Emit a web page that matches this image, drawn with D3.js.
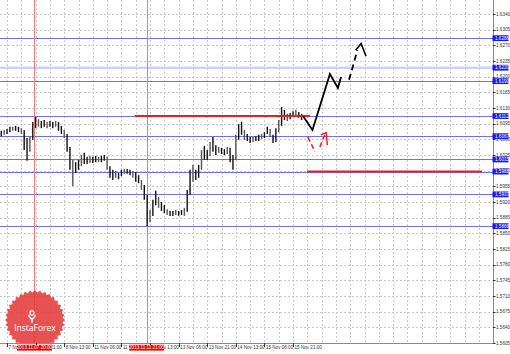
<!DOCTYPE html>
<html>
<head>
<meta charset="utf-8">
<script src="https://cdn.jsdelivr.net/npm/d3@7"></script>
<style>
  html, body { margin: 0; padding: 0; background: #fff; }
  svg { display: block; font-family: "Liberation Sans", Arial, sans-serif; }
</style>
</head>
<body>
<svg id="chart" width="510" height="354"></svg>
<script>
// hourly bars, high / low
const barHigh = [
  1.6079, 1.6081, 1.6083, 1.6088, 1.6088, 1.6090, 1.6088, 1.6085, 1.6081, 1.6063,
  1.6067, 1.6099, 1.6110, 1.6105, 1.6101, 1.6103, 1.6099, 1.6101, 1.6099, 1.6101,
  1.6099, 1.6090, 1.6081, 1.6072, 1.6043, 1.6014, 1.6009, 1.6014, 1.6025, 1.6030,
  1.6021, 1.6023, 1.6021, 1.6023, 1.6021, 1.6023, 1.6025, 1.6021, 1.6000, 1.5992,
  1.5989, 1.5985, 1.5992, 1.5994, 1.5994, 1.5992, 1.5989, 1.5987, 1.5980, 1.5969,
  1.5958, 1.5936, 1.5902, 1.5925, 1.5945, 1.5931, 1.5920, 1.5913, 1.5904, 1.5900,
  1.5900, 1.5902, 1.5900, 1.5902, 1.5907, 1.5947, 1.5992, 1.6003, 1.5992, 1.6003,
  1.6036, 1.6045, 1.6036, 1.6054, 1.6065, 1.6047, 1.6043, 1.6041, 1.6038, 1.6043,
  1.6041, 1.6025, 1.6070, 1.6094, 1.6099, 1.6081, 1.6072, 1.6065, 1.6065, 1.6067,
  1.6070, 1.6072, 1.6076, 1.6088, 1.6083, 1.6070, 1.6085, 1.6103, 1.6132, 1.6126,
  1.6117, 1.6119, 1.6123, 1.6126, 1.6121, 1.6117
];
const barLow = [
  1.6067, 1.6070, 1.6072, 1.6076, 1.6079, 1.6079, 1.6076, 1.6072, 1.6036, 1.6012,
  1.6032, 1.6059, 1.6085, 1.6088, 1.6085, 1.6088, 1.6085, 1.6088, 1.6085, 1.6088,
  1.6079, 1.6072, 1.6063, 1.6032, 1.5992, 1.5956, 1.5985, 1.5992, 1.6000, 1.6005,
  1.6005, 1.6007, 1.6007, 1.6009, 1.6009, 1.6009, 1.6012, 1.5992, 1.5974, 1.5969,
  1.5974, 1.5971, 1.5978, 1.5983, 1.5983, 1.5980, 1.5974, 1.5965, 1.5962, 1.5947,
  1.5925, 1.5866, 1.5875, 1.5889, 1.5913, 1.5907, 1.5900, 1.5895, 1.5891, 1.5889,
  1.5889, 1.5891, 1.5889, 1.5891, 1.5889, 1.5898, 1.5936, 1.5965, 1.5969, 1.5974,
  1.5992, 1.6014, 1.6014, 1.6023, 1.6032, 1.6025, 1.6030, 1.6027, 1.6025, 1.6027,
  1.6009, 1.5992, 1.6014, 1.6059, 1.6070, 1.6059, 1.6056, 1.6052, 1.6054, 1.6056,
  1.6056, 1.6061, 1.6063, 1.6072, 1.6065, 1.6052, 1.6054, 1.6076, 1.6090, 1.6103,
  1.6101, 1.6105, 1.6110, 1.6112, 1.6108, 1.6103
];

// axis ticks
const priceTicks = [1.6340, 1.6305, 1.6270, 1.6235, 1.6200, 1.6165, 1.6130, 1.6095,
  1.6060, 1.6025, 1.5990, 1.5955, 1.5920, 1.5885, 1.5850, 1.5815, 1.5780, 1.5745,
  1.5710, 1.5675, 1.5640, 1.5605];
const timeLabelBars = [2, 12, 22, 32, 42, 52, 62, 72, 82, 92, 102];
const timeLabels = ["7 Nov 2013", "7 Nov 21:00", "8 Nov 13:00", "11 Nov 06:00", "11 Nov 23:00",
  "12 Nov 13:00", "13 Nov 06:00", "13 Nov 21:00", "14 Nov 13:00", "15 Nov 06:00", "15 Nov 21:00"];

// support / resistance levels
const levels = [1.6286, 1.6220, 1.6190, 1.6112, 1.6067, 1.6015, 1.5988, 1.5937, 1.5866];
const keyLevel = 1.6220;
const redLevelPrice = [1.6112, 1.5988];
const redLevelFrom = [46.7, 106.9];
const redLevelTo = [107.9, 168.1];

// vertical markers
const markerBars = [11.6, 50.8];
const markerLabels = ["2013.11.07 20:00", "2013.11.11 21:00"];

// forecast paths [bar, price]
const mainPath = [[105.5, 1.6112], [108.8, 1.6081], [114.9, 1.6206], [117.7, 1.6175], [118.8, 1.6199]];
const mainDash = [[121.6, 1.6193], [124.5, 1.6259]];
const mainHead = [[123.9, 1.6259], [125.8, 1.6274], [127.5, 1.6246]];
const altDash1 = [[107.2, 1.6065], [109.7, 1.6032]];
const altDash2 = [[111.4, 1.6043], [113.2, 1.6072]];
const altHead = [[111.7, 1.6070], [113.6, 1.6075], [114.0, 1.6047]];

const W = 510, H = 354;
const plot = { right: 493, bottom: 343 };

const x = d3.scaleLinear().domain([0, 100]).range([1.3, 287.3]);
const y = d3.scaleLinear().domain([1.5605, 1.6340]).range([343, 14]);

const svg = d3.select("#chart");
svg.append("rect").attr("width", W).attr("height", H).attr("fill", "#fff");

svg.append("clipPath").attr("id", "plotClip")
  .append("rect").attr("width", plot.right).attr("height", plot.bottom);

const g = svg.append("g").attr("clip-path", "url(#plotClip)");

// grid
g.selectAll(".hgrid").data(priceTicks).enter().append("line")
  .attr("x1", 0).attr("x2", plot.right)
  .attr("y1", d => Math.round(y(d)) + 0.5).attr("y2", d => Math.round(y(d)) + 0.5)
  .attr("stroke", "#c8c8c8").attr("stroke-dasharray", "2,2");
g.selectAll(".vgrid").data(d3.range(2, 172, 5)).enter().append("line")
  .attr("x1", d => Math.round(x(d)) + 0.5).attr("x2", d => Math.round(x(d)) + 0.5)
  .attr("y1", 0).attr("y2", plot.bottom)
  .attr("stroke", "#c8c8c8").attr("stroke-dasharray", "2,2");

// levels
g.append("line")
  .attr("x1", 0).attr("x2", plot.right)
  .attr("y1", y(keyLevel)).attr("y2", y(keyLevel))
  .attr("stroke", "#cfcff8").attr("stroke-width", 2.5);
g.selectAll(".level").data(levels.filter(d => d !== keyLevel)).enter().append("line")
  .attr("x1", 0).attr("x2", plot.right)
  .attr("y1", d => Math.round(y(d)) + 0.5).attr("y2", d => Math.round(y(d)) + 0.5)
  .attr("stroke", "#6f6ff2").attr("stroke-width", 1);

// vertical markers
g.selectAll(".marker").data(markerBars).enter().append("line")
  .attr("x1", d => Math.round(x(d)) + 0.5).attr("x2", d => Math.round(x(d)) + 0.5)
  .attr("y1", 0).attr("y2", plot.bottom)
  .attr("stroke", "#f07a7a").attr("stroke-width", 1);

// price bars
g.selectAll(".bar").data(barHigh).enter().append("line")
  .attr("x1", (d, i) => x(i)).attr("x2", (d, i) => x(i))
  .attr("y1", d => y(d)).attr("y2", (d, i) => y(barLow[i]))
  .attr("stroke", (d, i) => i % 3 === 1 ? "#555" : "#111")
  .attr("stroke-width", 1.4);

// red levels
g.selectAll(".redLevel").data(redLevelPrice).enter().append("line")
  .attr("x1", (d, i) => x(redLevelFrom[i])).attr("x2", (d, i) => x(redLevelTo[i]))
  .attr("y1", d => y(d)).attr("y2", d => y(d))
  .attr("stroke", "#ee1c1c").attr("stroke-width", 2);

// forecasts
const line = d3.line().x(d => x(d[0])).y(d => y(d[1]));
g.append("path").attr("d", line(mainPath))
  .attr("fill", "none").attr("stroke", "#000").attr("stroke-width", 1.8)
  .attr("stroke-linejoin", "miter");
g.append("path").attr("d", line(mainDash))
  .attr("fill", "none").attr("stroke", "#000").attr("stroke-width", 1.8)
  .attr("stroke-dasharray", "6,4");
g.append("path").attr("d", line(mainHead))
  .attr("fill", "none").attr("stroke", "#000").attr("stroke-width", 1.6);
[altDash1, altDash2].forEach(p => {
  g.append("path").attr("d", line(p))
    .attr("fill", "none").attr("stroke", "#f01818").attr("stroke-width", 1.5)
    .attr("stroke-dasharray", "5,3");
});
g.append("path").attr("d", line(altHead))
  .attr("fill", "none").attr("stroke", "#f01818").attr("stroke-width", 1.4);

// logo badge
const logo = g.append("g").attr("transform", "translate(35,320)");
const teeth = 36;
const badge = d3.range(teeth * 2).map(k => {
  const a = k / (teeth * 2) * 2 * Math.PI;
  const r = k % 2 === 0 ? 30 : 27.5;
  return [Math.sin(a) * r, -Math.cos(a) * r];
});
logo.append("path").attr("d", d3.line()(badge) + "Z")
  .attr("fill", "#e43a3a").attr("opacity", 0.88);
logo.append("circle").attr("cx", -3).attr("cy", -7).attr("r", 2.1)
  .attr("fill", "none").attr("stroke", "#fff").attr("stroke-width", 1.2);
logo.append("path").attr("d", "M-6.5,-5 Q-3,3 0.5,-5 M-3,-2 L-3,3")
  .attr("fill", "none").attr("stroke", "#fff").attr("stroke-width", 1.4);
logo.append("text").attr("x", 0).attr("y", 11)
  .attr("text-anchor", "middle").attr("fill", "#fff")
  .attr("font-size", 8.5).attr("font-family", "'Open Sans', sans-serif")
  .text("InstaForex");

// frame
svg.append("line").attr("x1", plot.right + 0.5).attr("x2", plot.right + 0.5)
  .attr("y1", 0).attr("y2", plot.bottom + 0.5).attr("stroke", "#8a8a8a");
svg.append("line").attr("x1", 0).attr("x2", plot.right + 0.5)
  .attr("y1", plot.bottom + 0.5).attr("y2", plot.bottom + 0.5).attr("stroke", "#8a8a8a");

// price axis
const pa = svg.append("g");
pa.selectAll("line").data(priceTicks).enter().append("line")
  .attr("x1", plot.right).attr("x2", plot.right + 2.5)
  .attr("y1", d => Math.round(y(d)) + 0.5).attr("y2", d => Math.round(y(d)) + 0.5)
  .attr("stroke", "#333");
pa.selectAll("text").data(priceTicks).enter().append("text")
  .attr("x", plot.right + 3).attr("y", d => y(d) + 1.6)
  .attr("font-size", 4.6).attr("fill", "#333")
  .text(d => d.toFixed(4));

// time axis
const ta = svg.append("g");
ta.selectAll("line").data(timeLabelBars).enter().append("line")
  .attr("x1", d => Math.round(x(d)) + 0.5).attr("x2", d => Math.round(x(d)) + 0.5)
  .attr("y1", plot.bottom).attr("y2", plot.bottom + 4)
  .attr("stroke", "#333");
ta.selectAll("text").data(timeLabels).enter().append("text")
  .attr("x", (d, i) => x(timeLabelBars[i]) + 1.5).attr("y", 349.3)
  .attr("font-size", 4.6).attr("fill", "#333")
  .text(d => d);

// level tags
const tags = svg.append("g");
tags.selectAll("rect").data(levels).enter().append("rect")
  .attr("x", plot.right - 0.5).attr("y", d => y(d) - 2.9)
  .attr("width", 16).attr("height", 5.8).attr("fill", "#1818f0");
tags.selectAll("text").data(levels).enter().append("text")
  .attr("x", plot.right + 2).attr("y", d => y(d) + 1.6)
  .attr("font-size", 4.6).attr("fill", "#fff")
  .text(d => d.toFixed(4));

// marker tags
const mt = svg.append("g");
mt.selectAll("rect").data(markerBars).enter().append("rect")
  .attr("x", d => x(d) - 17.5).attr("y", 344.8)
  .attr("width", 35).attr("height", 5.8).attr("fill", "#f40000");
mt.selectAll("text").data(markerLabels).enter().append("text")
  .attr("x", (d, i) => x(markerBars[i])).attr("y", 349.3)
  .attr("text-anchor", "middle").attr("font-size", 4.6).attr("fill", "#fff")
  .text(d => d);
</script>
</body>
</html>
